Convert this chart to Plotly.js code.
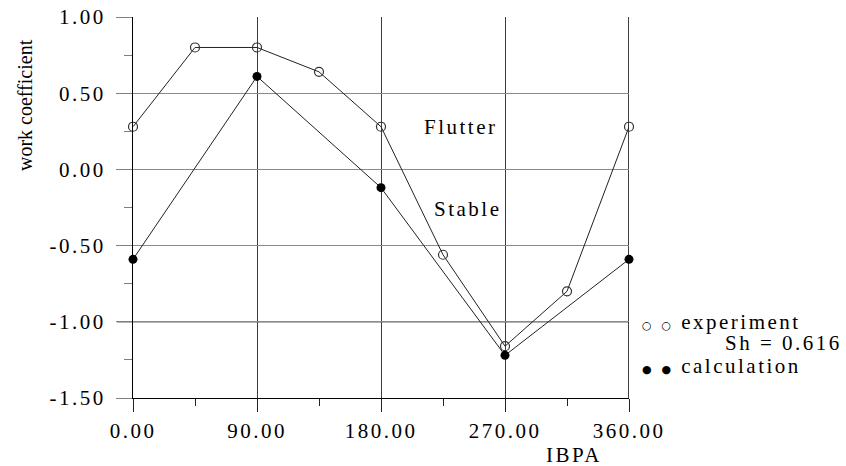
<!DOCTYPE html>
<html>
<head>
<meta charset="utf-8">
<script src="https://cdn.plot.ly/plotly-3.0.1.min.js"></script>
<style>
  html, body { margin: 0; padding: 0; background: #fff; }
  #chart { width: 846px; height: 466px; }
  text { letter-spacing: 2.5px; }
</style>
</head>
<body>
<div id="chart"></div>
<script>
// ---- data ----
const expIBPA = [0, 45, 90, 135, 180, 225, 270, 315, 360];
const expWork = [0.28, 0.80, 0.80, 0.64, 0.28, -0.56, -1.16, -0.80, 0.28];
const calcIBPA = [0, 90, 180, 270, 360];
const calcWork = [-0.59, 0.61, -0.12, -1.22, -0.59];
const xTicks = [0, 90, 180, 270, 360];
const yTicks = [-1.5, -1.0, -0.5, 0.0, 0.5, 1.0];
const xLabel = 'IBPA';
const yLabel = 'work coefficient';
const regionLabels = ['Flutter', 'Stable'];
const legendSymbols = ['\u25CB\u25CB', '\u25CF\u25CF'];
const legendLabels = ['experiment', 'Sh = 0.616', 'calculation'];

const FONT = 'Liberation Serif, Times New Roman, serif';

const traces = [
  {
    x: expIBPA, y: expWork, type: 'scatter', mode: 'lines+markers',
    line: { color: '#222', width: 1 },
    marker: { symbol: 'circle-open', size: 9, color: '#333', line: { width: 1.2, color: '#333' } },
    cliponaxis: false, showlegend: false, hoverinfo: 'skip'
  },
  {
    x: calcIBPA, y: calcWork, type: 'scatter', mode: 'lines+markers',
    line: { color: '#222', width: 1 },
    marker: { symbol: 'circle', size: 9, color: '#000' },
    cliponaxis: false, showlegend: false, hoverinfo: 'skip'
  }
];

const sym = s => '<span style="font-family:DejaVu Sans;font-size:11px;letter-spacing:10px">' + s + '</span>';

const layout = {
  width: 846, height: 466,
  margin: { l: 133, r: 217, t: 17, b: 68 },
  paper_bgcolor: '#fff', plot_bgcolor: '#fff',
  font: { family: FONT, size: 21, color: '#000' },
  showlegend: false,
  xaxis: {
    range: [0, 360], tickvals: xTicks, ticktext: xTicks.map(v => v.toFixed(2)),
    ticks: 'outside', ticklen: 13, tickcolor: '#222', tickwidth: 1,
    minor: { dtick: 45, tick0: 0, ticks: 'outside', ticklen: 7, tickcolor: '#222', showgrid: false },
    showgrid: true, gridcolor: '#3c3c3c', gridwidth: 1,
    showline: true, linecolor: '#000', linewidth: 1,
    zeroline: false, tickfont: { family: FONT, size: 21, color: '#000' },
    ticklabelstandoff: 1
  },
  yaxis: {
    range: [-1.5, 1.0], tickvals: yTicks, ticktext: yTicks.map(v => v.toFixed(2)),
    ticks: 'outside', ticklen: 16, tickcolor: '#808080', tickwidth: 1,
    minor: { dtick: 0.25, tick0: 0, ticks: 'outside', ticklen: 8, tickcolor: '#808080', showgrid: false },
    showgrid: true, gridcolor: '#8a8a8a', gridwidth: 1,
    showline: true, linecolor: '#000', linewidth: 1,
    zeroline: false, tickfont: { family: FONT, size: 21, color: '#000' },
    ticklabelstandoff: 6
  },
  shapes: [
    { type: 'line', xref: 'paper', x0: -0.032, x1: 1, yref: 'y', y0: -1, y1: -1, line: { color: '#000', width: 1 }, layer: 'below' },
    { type: 'line', xref: 'x', x0: 360, x1: 360, yref: 'paper', y0: 0, y1: 1, line: { color: '#000', width: 1.5 }, layer: 'below' }
  ],
  annotations: [
    { text: regionLabels[0], xref: 'x', yref: 'y', x: 238, y: 0.278, xanchor: 'center', yanchor: 'middle', showarrow: false, font: { family: FONT, size: 21 } },
    { text: regionLabels[1], xref: 'x', yref: 'y', x: 243, y: -0.262, xanchor: 'center', yanchor: 'middle', showarrow: false, font: { family: FONT, size: 21 } },
    { text: '<span style="letter-spacing:0px">' + yLabel + '</span>', xref: 'paper', yref: 'paper', x: -0.2177, y: 0.769, xanchor: 'center', yanchor: 'middle', textangle: -90, showarrow: false, font: { family: FONT, size: 20 } },
    { text: xLabel, xref: 'paper', yref: 'paper', x: 0.889, y: -0.1496, xanchor: 'center', yanchor: 'middle', showarrow: false, font: { family: FONT, size: 21 } },
    { text: sym(legendSymbols[0]) + legendLabels[0], xref: 'paper', yref: 'paper', x: 1.022, y: 0.1995, xanchor: 'left', yanchor: 'middle', showarrow: false, font: { family: FONT, size: 21 } },
    { text: legendLabels[1], xref: 'paper', yref: 'paper', x: 1.190, y: 0.144, xanchor: 'left', yanchor: 'middle', showarrow: false, font: { family: FONT, size: 21 } },
    { text: sym(legendSymbols[1]) + legendLabels[2], xref: 'paper', yref: 'paper', x: 1.022, y: 0.084, xanchor: 'left', yanchor: 'middle', showarrow: false, font: { family: FONT, size: 21 } }
  ]
};

Plotly.newPlot('chart', traces, layout, { displayModeBar: false, staticPlot: true });
</script>
</body>
</html>
